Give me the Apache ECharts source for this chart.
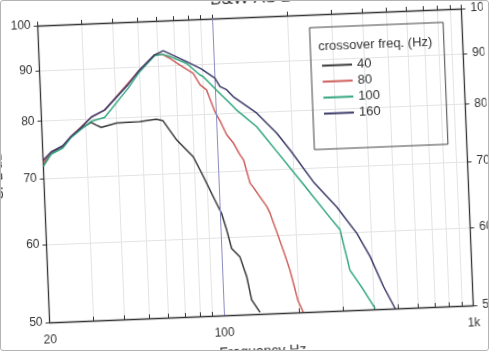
<!DOCTYPE html>
<html>
<head>
<meta charset="utf-8">
<script src="https://cdn.jsdelivr.net/npm/echarts@6/dist/echarts.min.js"></script>
<style>
html, body { margin: 0; padding: 0; background: #fff; overflow: hidden; }
#chart { width: 489px; height: 351px; transform-origin: 255.5px 165.5px; transform: rotate(-2.3deg); }
#frame { position: absolute; left: 0; top: 0; width: 489px; height: 351px; box-sizing: border-box;
  border: 1px solid #b4b4b4; border-radius: 3px; pointer-events: none; }
</style>
</head>
<body>
<div id="chart"></div>
<div id="frame"></div>
<script>
// axis ticks
const xLabels = [20, 100, 1000]
const xTicks = [20, 30, 40, 50, 60, 70, 80, 90, 100, 200, 300, 400, 500, 600, 700, 800, 900, 1000]
const yTicks = [50, 60, 70, 80, 90, 100]

// crossover 40 Hz
const freq40 = [20, 21.6, 24.1, 26.1, 28.7, 31.6, 33.0, 34.6, 39.9, 49.5, 57.8, 61.2, 69.0, 79.9, 85.9, 94.7, 101.7, 105.9, 110.1, 118.5, 125.2, 129.9, 139.7]
const spl40 = [72.2, 74.2, 75.2, 76.9, 78.4, 79.4, 78.9, 78.4, 79.1, 79.2, 79.5, 79.2, 75.6, 72.6, 69.8, 66.0, 63.4, 61.0, 58.4, 57.2, 54.6, 51.7, 50.2]
// crossover 80 Hz
const freq80 = [20, 21.6, 24.1, 26.1, 28.7, 31.7, 35.9, 45.0, 50, 58.1, 62.1, 66.9, 73.1, 82.4, 87.4, 92.7, 99.3, 104, 109.6, 116.6, 123, 127, 133.6, 137, 154.5, 158.8, 177, 187, 199, 208]
const spl80 = [72.5, 74.3, 75.3, 77.0, 78.6, 80.4, 81.6, 86.7, 89.2, 92.4, 92.5, 91.5, 90.0, 88.2, 85.8, 84.7, 80.4, 78.6, 76.2, 74.6, 72.6, 71.7, 67.9, 67.3, 64.2, 63.2, 57.9, 55.2, 51.4, 50.0]
// crossover 100 Hz
const freq100 = [20, 21.6, 24.1, 26.1, 28.7, 31.6, 35.8, 45.0, 50, 58.1, 62.1, 66.9, 77.8, 87.6, 90.3, 101.6, 117.8, 121.3, 145, 171, 220, 268, 301, 325, 365, 404]
const spl100 = [72.0, 74.0, 75.0, 76.8, 78.2, 79.6, 80.2, 85.7, 88.8, 92.2, 92.5, 91.9, 90.3, 87.8, 87.4, 84.6, 81.3, 80.6, 77.4, 73.2, 67.2, 62.8, 60.4, 54.9, 52.4, 50.1]
// crossover 160 Hz
const freq160 = [20, 21.6, 24.1, 26.1, 28.7, 31.7, 35.9, 45.0, 50, 58.1, 63.0, 77.8, 89, 100.5, 104.9, 111.5, 118.2, 145.8, 174, 195.5, 239.7, 294.6, 351, 393, 440, 486]
const spl160 = [73.0, 74.4, 75.4, 77.0, 78.5, 80.4, 81.6, 86.4, 89.2, 92.4, 93.2, 90.7, 89.0, 87.0, 85.3, 84.6, 83.2, 79.9, 76.1, 73.1, 67.7, 63.7, 59.8, 56.6, 52.7, 50.0]

const names = ['40', '80', '100', '160']
const colors = ['#3a3a3a', '#cf5f5c', '#33a77f', '#3d3c6c']
const curves = [[freq40, spl40], [freq80, spl80], [freq100, spl100], [freq160, spl160]]

const pairs = (f, s) => f.map((v, i) => [v, s[i]])
const font = '"Liberation Sans", Arial, sans-serif'
const ink = '#333'

const chart = echarts.init(document.getElementById('chart'))
chart.setOption({
  animation: false,
  textStyle: { fontFamily: font },
  title: [
    { text: 'B&W AS 2', left: 252, top: -15, textAlign: 'center',
      textStyle: { fontSize: 17, fontWeight: 'normal', color: ink } },
    { text: 'crossover freq. (Hz)', left: 323, top: 43, padding: 0,
      textStyle: { fontSize: 13, fontWeight: 'normal', color: ink } },
  ],
  legend: {
    orient: 'vertical', left: 315, top: 30, padding: [32, 66, 29, 11],
    itemGap: 3, itemWidth: 30, itemHeight: 2, icon: 'rect',
    borderColor: '#444', borderWidth: 1,
    textStyle: { fontSize: 13, color: ink },
    data: names,
  },
  grid: { left: 43.5, top: 17, width: 424, height: 297, outerBoundsMode: 'none' },
  xAxis: [
    {
      type: 'log', logBase: 10, min: 20, max: 1000, position: 'bottom',
      name: 'Frequency Hz', nameLocation: 'middle', nameGap: 31,
      nameTextStyle: { fontSize: 14, color: ink },
      axisLine: { lineStyle: { color: ink, width: 1.3 } },
      axisTick: { inside: true, length: 4, customValues: xTicks, lineStyle: { color: ink } },
      axisLabel: { customValues: xLabels, fontSize: 12, color: ink, margin: 12,
        formatter: v => v >= 1000 ? (v / 1000) + 'k' : String(v) },
      splitLine: { show: true, lineStyle: { color: '#e3e3e3' } },
    },
    {
      type: 'log', logBase: 10, min: 20, max: 1000, position: 'top',
      axisLine: { lineStyle: { color: ink, width: 1.3 } },
      axisTick: { inside: false, length: 4, customValues: xTicks, lineStyle: { color: ink } },
      axisLabel: { show: false },
      splitLine: { show: false },
    },
  ],
  yAxis: [
    {
      type: 'log', logBase: 10, min: 50, max: 100, position: 'left',
      name: 'SPL dB', nameLocation: 'middle', nameGap: 36, nameRotate: 90,
      nameTextStyle: { fontSize: 14, color: ink },
      axisLine: { show: true, lineStyle: { color: ink, width: 1.3 } },
      axisTick: { show: true, length: 4, customValues: yTicks, lineStyle: { color: ink } },
      axisLabel: { customValues: yTicks, fontSize: 12, color: ink, margin: 7 },
      splitLine: { show: true, lineStyle: { color: '#e3e3e3' } },
    },
    {
      type: 'log', logBase: 10, min: 50, max: 100, position: 'right',
      axisLine: { show: true, lineStyle: { color: ink, width: 1.3 } },
      axisTick: { show: true, length: 4, customValues: yTicks, lineStyle: { color: ink } },
      axisLabel: { customValues: yTicks, fontSize: 12, color: ink, margin: 9 },
      splitLine: { show: false },
    },
  ],
  series: curves.map(([f, s], i) => ({
    name: names[i],
    type: 'line',
    data: pairs(f, s),
    showSymbol: false,
    symbol: 'none',
    color: colors[i],
    lineStyle: { width: 1.5, color: colors[i] },
    z: 3 + i,
    markLine: i === 0 ? {
      silent: true, symbol: 'none', label: { show: false },
      lineStyle: { color: '#8c8cc2', width: 1, type: 'solid' },
      data: [{ xAxis: 100 }],
    } : undefined,
  })),
})
</script>
</body>
</html>
